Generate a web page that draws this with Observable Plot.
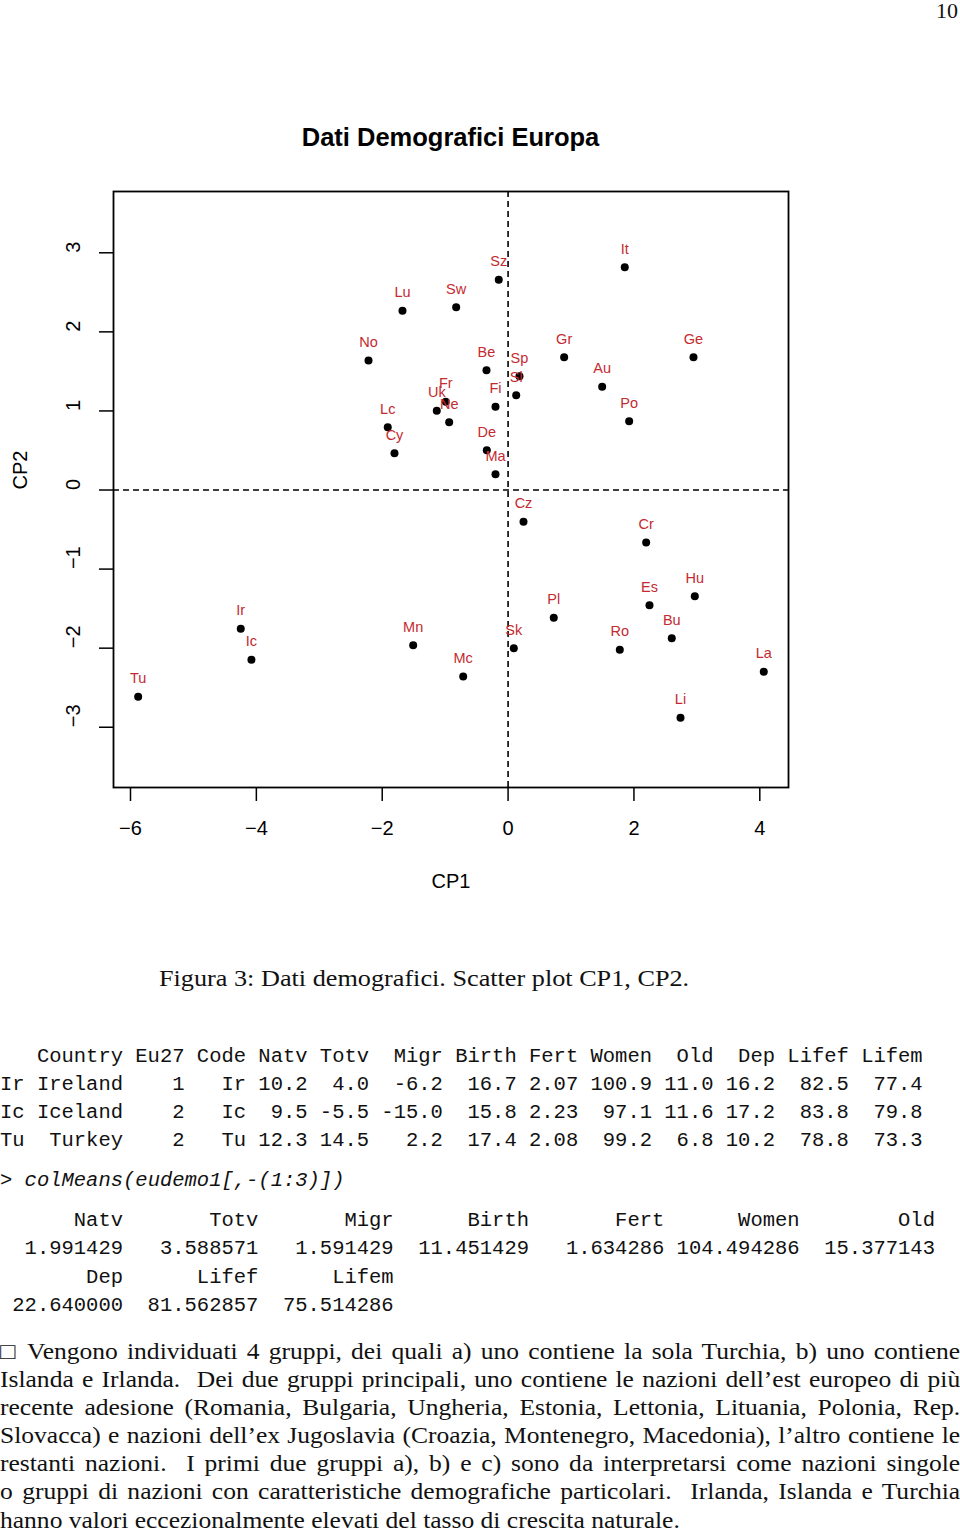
<!DOCTYPE html>
<html>
<head>
<meta charset="utf-8">
<script src="https://cdn.jsdelivr.net/npm/d3@7"></script>
<script src="https://cdn.jsdelivr.net/npm/@observablehq/plot@0.6"></script>
<style>
html, body { margin: 0; padding: 0; background: #fff; }
body { width: 960px; height: 1531px; position: relative; overflow: hidden; }
.abs { position: absolute; left: 0; z-index: 2; }
#chart { top: 0; z-index: 1; }
.title { width: 901px; text-align: center; font-family: "Liberation Sans", Arial, sans-serif; font-weight: bold; font-size: 25.5px; line-height: 30px; color: #000; }
.serif { font-family: "Liberation Serif", "Times New Roman", serif; color: #111; font-size: 23px; }
.mono { font-family: "Liberation Mono", monospace; font-size: 20.5px; white-space: pre; line-height: 28px; color: #111; }
.caption { transform: scaleX(1.14); transform-origin: 0 0; white-space: nowrap; }
.para { transform: scaleX(1.11); transform-origin: 0 0; }
.para div { width: 865px; text-align: justify; text-align-last: justify; line-height: 28.1px; height: 28.1px; white-space: nowrap; }
.para div.last { text-align-last: left; line-height: 16px; height: 16px; margin-top: 6px; }
</style>
</head>
<body>
<div id="chart" class="abs"></div>
<div class="abs serif" style="top:0px; left:auto; right:2px; font-size:22px; line-height:22px;">10</div>
<div class="abs title" style="top:122px;">Dati Demografici Europa</div>
<div class="abs serif caption" style="top:966px; left:159px;">Figura 3: Dati demografici. Scatter plot CP1, CP2.</div>
<div class="abs mono" id="tbl" style="top:1043px;"></div>
<div class="abs mono" style="top:1167px;">&gt; <i>colMeans(eudemo1[,-(1:3)])</i></div>
<div class="abs mono" id="means" style="top:1207px; line-height:28.4px;"></div>
<div class="abs serif para" style="top:1338px;">
<div>□ Vengono individuati 4 gruppi, dei quali a) uno contiene la sola Turchia, b) uno contiene</div>
<div>Islanda e Irlanda.&nbsp; Dei due gruppi principali, uno contiene le nazioni dell’est europeo di più</div>
<div>recente adesione (Romania, Bulgaria, Ungheria, Estonia, Lettonia, Lituania, Polonia, Rep.</div>
<div>Slovacca) e nazioni dell’ex Jugoslavia (Croazia, Montenegro, Macedonia), l’altro contiene le</div>
<div>restanti nazioni.&nbsp; I primi due gruppi a), b) e c) sono da interpretarsi come nazioni singole</div>
<div>o gruppi di nazioni con caratteristiche demografiche particolari.&nbsp; Irlanda, Islanda e Turchia</div>
<div class="last">hanno valori eccezionalmente elevati del tasso di crescita naturale.</div>
</div>
<script>
// ---- data ----
const codes = ["Be","Bu","Cz","De","Ge","Es","Ir","Gr","Sp","Fr","It","Cy","La","Li","Lu","Hu","Ma","Ne","Au","Pl","Po","Ro","Sl","Sk","Fi","Sw","Uk","Ic","Lc","No","Sz","Cr","Mc","Tu","Mn"];
const cp1 = [-0.343, 2.601, 0.245, -0.338, 2.946, 2.247, -4.248, 0.891, 0.181, -0.990, 1.854, -1.805, 4.063, 2.740, -1.678, 2.967, -0.200, -0.936, 1.495, 0.726, 1.924, 1.775, 0.129, 0.091, -0.200, -0.825, -1.133, -4.078, -1.912, -2.218, -0.148, 2.194, -0.713, -5.878, -1.508];
const cp2 = [1.515, -1.874, -0.402, 0.503, 1.680, -1.457, -1.755, 1.680, 1.439, 1.115, 2.818, 0.465, -2.299, -2.881, 2.266, -1.343, 0.200, 0.857, 1.305, -1.616, 0.870, -2.021, 1.199, -2.001, 1.052, 2.312, 1.002, -2.147, 0.794, 1.638, 2.658, -0.664, -2.359, -2.615, -1.963];
const xTicks = [-6, -4, -2, 0, 2, 4];
const yTicks = [-3, -2, -1, 0, 1, 2, 3];

const tableHeader = ["Country","Eu27","Code","Natv","Totv","Migr","Birth","Fert","Women","Old","Dep","Lifef","Lifem"];
const tableRowNames = ["Ir","Ic","Tu"];
const tableCountry = ["Ireland","Iceland","Turkey"];
const tableEu27 = ["1","2","2"];
const tableCode = ["Ir","Ic","Tu"];
const tableNatv = ["10.2","9.5","12.3"];
const tableTotv = ["4.0","-5.5","14.5"];
const tableMigr = ["-6.2","-15.0","2.2"];
const tableBirth = ["16.7","15.8","17.4"];
const tableFert = ["2.07","2.23","2.08"];
const tableWomen = ["100.9","97.1","99.2"];
const tableOld = ["11.0","11.6","6.8"];
const tableDep = ["16.2","17.2","10.2"];
const tableLifef = ["82.5","83.8","78.8"];
const tableLifem = ["77.4","79.8","73.3"];

const meanNames = ["Natv","Totv","Migr","Birth","Fert","Women","Old","Dep","Lifef","Lifem"];
const meanValues = ["1.991429","3.588571","1.591429","11.451429","1.634286","104.494286","15.377143","22.640000","81.562857","75.514286"];

// ---- text tables (R print layout) ----
const cols = [tableCountry, tableEu27, tableCode, tableNatv, tableTotv, tableMigr, tableBirth, tableFert, tableWomen, tableOld, tableDep, tableLifef, tableLifem];
const widths = cols.map((c, j) => Math.max(tableHeader[j].length, ...c.map(s => s.length)));
const rnw = Math.max(...tableRowNames.map(s => s.length));
let lines = [" ".repeat(rnw) + tableHeader.map((h, j) => " " + h.padStart(widths[j])).join("")];
tableRowNames.forEach((rn, i) => {
  lines.push(rn.padEnd(rnw) + cols.map((c, j) => " " + c[i].padStart(widths[j])).join(""));
});
document.getElementById("tbl").textContent = lines.join("\n");

const mw = Math.max(...meanValues.map(s => s.length), ...meanNames.map(s => s.length));
const perLine = 7;
let mlines = [];
for (let k = 0; k < meanNames.length; k += perLine) {
  const n = meanNames.slice(k, k + perLine), v = meanValues.slice(k, k + perLine);
  mlines.push(n.map(s => s.padStart(mw)).join(" "));
  mlines.push(v.map(s => s.padStart(mw)).join(" "));
}
document.getElementById("means").textContent = mlines.join("\n");

// ---- chart ----
const data = codes.map((c, i) => ({code: c, cp1: cp1[i], cp2: cp2[i]}));
const fmt = d => d < 0 ? "\u2212" + Math.abs(d) : String(d);
const red = "#c42a30";

const chart = Plot.plot({
  width: 960,
  height: 930,
  marginTop: 191,
  marginBottom: 143,
  marginLeft: 113,
  marginRight: 172,
  x: {domain: [-6.27, 4.456]},
  y: {domain: [-3.762, 3.775]},
  style: {fontFamily: "'Liberation Sans', Arial, sans-serif", background: "white", color: "black"},
  marks: [
    Plot.ruleX([0], {strokeDasharray: "6,4", strokeWidth: 1.6}),
    Plot.ruleY([0], {strokeDasharray: "6,4", strokeWidth: 1.6}),
    Plot.frame({strokeWidth: 1.8}),
    Plot.axisX(xTicks, {tickSize: 14, strokeWidth: 1.5, tickFormat: () => "", label: null}),
    Plot.axisY(yTicks, {tickSize: 14, strokeWidth: 1.5, tickFormat: () => "", label: null}),
    Plot.text(xTicks, {x: d => d, text: fmt, frameAnchor: "bottom", dy: 47, fontSize: 20}),
    Plot.text(yTicks, {y: d => d, text: fmt, frameAnchor: "left", dx: -40, rotate: -90, fontSize: 20}),
    Plot.text(["CP1"], {text: d => d, frameAnchor: "bottom", dy: 100, fontSize: 20}),
    Plot.text(["CP2"], {text: d => d, frameAnchor: "left", dx: -93, rotate: -90, fontSize: 20}),
    Plot.dot(data, {x: "cp1", y: "cp2", r: 4, fill: "black", stroke: "none"}),
    Plot.text(data, {x: "cp1", y: "cp2", text: "code", dy: -18, fill: red, fontSize: 14.5})
  ]
});
document.getElementById("chart").appendChild(chart);
</script>
</body>
</html>
